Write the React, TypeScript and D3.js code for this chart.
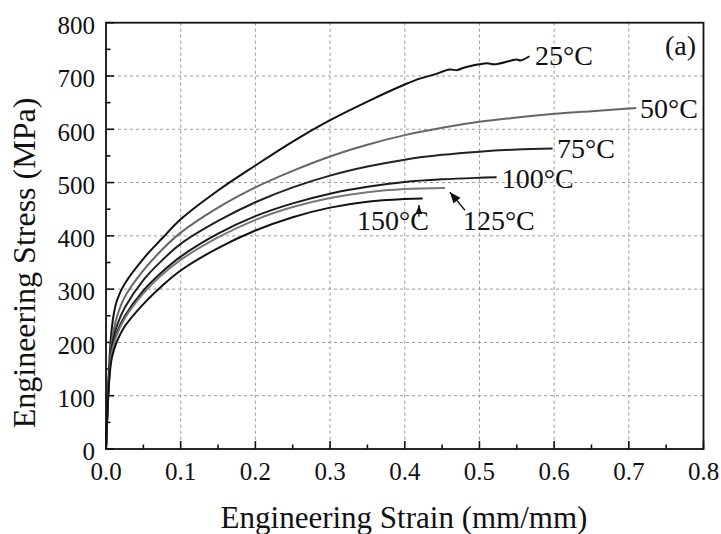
import React from "react";
import * as d3 from "d3";

const W = 721;
const H = 534;

const xTicks = [0, 0.1, 0.2, 0.3, 0.4, 0.5, 0.6, 0.7, 0.8];
const yTicks = [0, 100, 200, 300, 400, 500, 600, 700, 800];
const xMinor = [0.05, 0.15, 0.25, 0.35, 0.45, 0.55, 0.65, 0.75];
const yMinor = [50, 150, 250, 350, 450, 550, 650, 750];

const s25x = [0, 0.004, 0.007, 0.01, 0.015, 0.025, 0.05, 0.075, 0.1, 0.15, 0.2, 0.25, 0.3, 0.35, 0.4, 0.42, 0.44, 0.46, 0.47, 0.48, 0.5, 0.51, 0.52, 0.54, 0.55, 0.555, 0.567];
const s25y = [0, 150, 215, 250, 280, 310, 357, 395, 431, 485, 532, 577, 617, 652, 684, 695, 703, 712, 711, 716, 722, 724, 722, 728, 731, 729, 737];

const s50x = [0, 0.004, 0.007, 0.01, 0.015, 0.025, 0.05, 0.075, 0.1, 0.15, 0.2, 0.25, 0.3, 0.35, 0.4, 0.45, 0.5, 0.55, 0.6, 0.65, 0.7, 0.71];
const s50y = [0, 140, 195, 222, 250, 285, 335, 374, 406, 453, 491, 522, 549, 571, 589, 603, 614, 622, 629, 634, 639, 640];

const s75x = [0, 0.004, 0.007, 0.01, 0.015, 0.025, 0.05, 0.075, 0.1, 0.15, 0.2, 0.25, 0.3, 0.35, 0.4, 0.45, 0.5, 0.55, 0.598];
const s75y = [0, 135, 185, 208, 233, 265, 317, 354, 385, 428, 463, 491, 513, 530, 543, 552, 558, 562, 564];

const s100x = [0, 0.004, 0.007, 0.01, 0.015, 0.025, 0.05, 0.075, 0.1, 0.15, 0.2, 0.25, 0.3, 0.35, 0.4, 0.45, 0.5, 0.523];
const s100y = [0, 130, 178, 198, 220, 249, 297, 332, 361, 404, 437, 461, 479, 492, 501, 506, 509, 510];

const s125x = [0, 0.004, 0.007, 0.01, 0.015, 0.025, 0.05, 0.075, 0.1, 0.15, 0.2, 0.25, 0.3, 0.35, 0.4, 0.454];
const s125y = [0, 128, 175, 194, 216, 245, 292, 327, 355, 397, 430, 454, 471, 482, 488, 490];

const s150x = [0, 0.004, 0.007, 0.01, 0.015, 0.025, 0.05, 0.075, 0.1, 0.15, 0.2, 0.25, 0.3, 0.35, 0.4, 0.424];
const s150y = [0, 122, 165, 183, 203, 230, 272, 306, 335, 377, 410, 435, 453, 464, 469, 470];

const seriesNames = ["25°C", "50°C", "75°C", "100°C", "125°C", "150°C"];
const seriesX = [s25x, s50x, s75x, s100x, s125x, s150x];
const seriesY = [s25y, s50y, s75y, s100y, s125y, s150y];
const seriesColor = ["#111", "#666", "#222", "#1a1a1a", "#777", "#111"];

// label anchors in data units (strain, stress)
const labelX = [0.5744, 0.715, 0.6038, 0.53, 0.4779, 0.336];
const labelY = [720, 622, 546, 489, 411, 411];

const FONT = "'Liberation Serif', 'Times New Roman', serif";

export default function App() {
  const left = 106, top = 22.7, right = 703.5, bottom = 449;
  const x = d3.scaleLinear().domain([0, 0.8]).range([left, right]);
  const y = d3.scaleLinear().domain([0, 800]).range([bottom, top]);

  const line = d3
    .line<[number, number]>()
    .x((d) => x(d[0]))
    .y((d) => y(d[1]))
    .curve(d3.curveCatmullRom.alpha(0.5));

  const paths = seriesX.map((xs, i) =>
    line(xs.map((v, j) => [v, seriesY[i][j]] as [number, number]))
  );

  const a125from: [number, number] = [x(0.4806), y(448)];
  const a125to: [number, number] = [x(0.4605), y(482)];
  const a150from: [number, number] = [x(0.4190), y(436)];
  const a150to: [number, number] = [x(0.4190), y(458)];

  const arrowHead = (from: [number, number], to: [number, number], len = 11, wid = 4.5) => {
    const dx = to[0] - from[0];
    const dy = to[1] - from[1];
    const L = Math.hypot(dx, dy);
    const ux = dx / L, uy = dy / L;
    const bx = to[0] - ux * len, by = to[1] - uy * len;
    const px = -uy, py = ux;
    return `M${to[0]},${to[1]}L${bx + px * wid},${by + py * wid}L${bx - px * wid},${by - py * wid}Z`;
  };

  const ts = { fontFamily: FONT } as React.CSSProperties;

  return (
    <svg
      width={W}
      height={H}
      style={{ position: "absolute", left: 0, top: 0, background: "#fff", fontFamily: FONT }}
    >
      <rect x={0} y={0} width={W} height={H} fill="#fff" />
      {xTicks.slice(1, -1).map((t) => (
        <line key={"gx" + t} x1={x(t)} x2={x(t)} y1={top} y2={bottom} stroke="#9a9a9a" strokeWidth={1} strokeDasharray="3,3" />
      ))}
      {yTicks.slice(1, -1).map((t) => (
        <line key={"gy" + t} x1={left} x2={right} y1={y(t)} y2={y(t)} stroke="#9a9a9a" strokeWidth={1} strokeDasharray="3,3" />
      ))}
      {xTicks.map((t) => (
        <line key={"tx" + t} x1={x(t)} x2={x(t)} y1={bottom} y2={bottom - 8} stroke="#111" strokeWidth={1.6} />
      ))}
      {xMinor.map((t) => (
        <line key={"mx" + t} x1={x(t)} x2={x(t)} y1={bottom} y2={bottom - 4.5} stroke="#111" strokeWidth={1.6} />
      ))}
      {yTicks.map((t) => (
        <line key={"ty" + t} x1={left} x2={left + 8} y1={y(t)} y2={y(t)} stroke="#111" strokeWidth={1.6} />
      ))}
      {yMinor.map((t) => (
        <line key={"my" + t} x1={left} x2={left + 4.5} y1={y(t)} y2={y(t)} stroke="#111" strokeWidth={1.6} />
      ))}
      {paths.map((p, i) => (
        <path key={"s" + i} d={p || ""} fill="none" stroke={seriesColor[i]} strokeWidth={2} strokeLinejoin="round" />
      ))}
      <rect x={left} y={top} width={right - left} height={bottom - top} fill="none" stroke="#111" strokeWidth={1.8} />
      {xTicks.map((t) => (
        <text key={"lx" + t} x={x(t)} y={480} textAnchor="middle" fontSize={25} fill="#111" style={ts}>
          {t.toFixed(1)}
        </text>
      ))}
      {yTicks.map((t) => (
        <text key={"ly" + t} x={95} y={y(t)} dy="0.45em" textAnchor="end" fontSize={25} fill="#111" style={ts}>
          {t}
        </text>
      ))}
      <text x={404} y={528} textAnchor="middle" fontSize={31} fill="#111" style={ts}>
        Engineering Strain (mm/mm)
      </text>
      <text transform={`translate(35,263) rotate(-90)`} textAnchor="middle" fontSize={32} fill="#111" style={ts}>
        Engineering Stress (MPa)
      </text>
      {seriesNames.map((n, i) => (
        <text key={"n" + i} x={x(labelX[i])} y={y(labelY[i])} fontSize={28} fill="#111" style={ts}>
          {n}
        </text>
      ))}
      <text x={696} y={55} textAnchor="end" fontSize={28} fill="#111" style={ts}>
        (a)
      </text>
      <line x1={a125from[0]} y1={a125from[1]} x2={a125to[0]} y2={a125to[1]} stroke="#111" strokeWidth={1.3} />
      <path d={arrowHead(a125from, a125to, 11, 4.5)} fill="#111" />
      <line x1={a150from[0]} y1={a150from[1]} x2={a150to[0]} y2={a150to[1]} stroke="#111" strokeWidth={1.3} />
      <path d={arrowHead(a150from, a150to, 9, 3.5)} fill="#111" />
    </svg>
  );
}
